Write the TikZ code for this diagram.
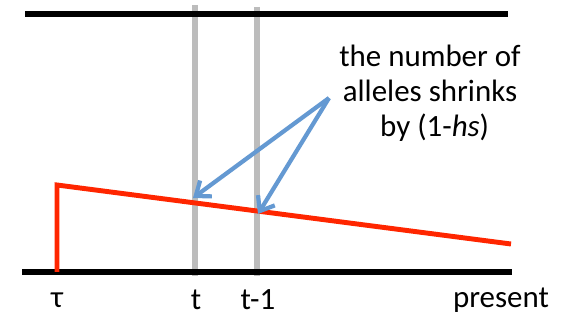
\documentclass[tikz,border=0pt]{standalone}
\usepackage{fontspec}
\setmainfont{Carlito}
\definecolor{lineRed}{RGB}{255, 38, 0}
\definecolor{arrowBlue}{RGB}{100, 153, 210}
\definecolor{barGray}{RGB}{188, 188, 188}
\usetikzlibrary{positioning, calc, arrows.meta}

\begin{document}
\begin{tikzpicture}[
    x=0.025cm, y=-0.025cm,
    axis/.style={line width=4.3pt, black},
    gen/.style={line width=3.6pt, barGray},
    freq/.style={line width=3.5pt, lineRed},
    shrink/.style={-{Straight Barb[length=9pt, width=14pt]}, line width=3pt, arrowBlue},
    mylabel/.style={font=\fontsize{22}{26}\selectfont, inner sep=0pt},
  ]
    \useasboundingbox (0,0) rectangle (566,320);

    % generations
    \draw[gen] (195,5) coordinate (Gt_T) -- (195,276) coordinate (Gt_B);
    \draw[gen] (257,7) coordinate (Gt1_T) -- (257,276) coordinate (Gt1_B);

    % population boundaries
    \draw[axis] (25,14) coordinate (TOP_L) -- (508,14) coordinate (TOP_R);
    \draw[axis] (22,272) coordinate (BOT_L) -- (512,272) coordinate (BOT_R);

    % allele frequency
    \coordinate (ORIG) at (57,272);
    \coordinate (PEAK) at (57,185);
    \coordinate (END) at (511,244);
    \draw[freq] (ORIG) -- (PEAK) -- (END);

    % label and arrows
    \node[mylabel, align=center] (SHRINK) at (430,93)
         {the number of\\[-1pt]alleles shrinks\\[-1pt]\hspace*{0.3em}by (1-\textit{hs})};
    \coordinate (FROM) at (329,98);
    \coordinate (ON_T) at (193,198);
    \coordinate (ON_T1) at (258,214);
    \draw[shrink] (FROM) -- (ON_T);
    \draw[shrink] (FROM) -- (ON_T1);

    % time axis
    \node[mylabel] (TAU) at (57,300) {τ};
    \node[mylabel] (T) at (196,300) {t};
    \node[mylabel] (T1) at (258,300) {t-1};
    \node[mylabel] (PRESENT) at (501,300) {present};
  \end{tikzpicture}
\end{document}
